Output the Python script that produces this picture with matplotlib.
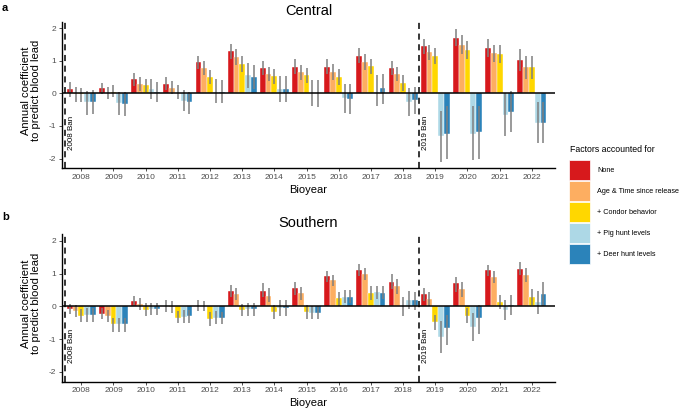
import matplotlib
matplotlib.use("Agg")
import matplotlib.pyplot as plt
from matplotlib.patches import Rectangle
import numpy as np

plt.rcParams['font.family'] = ['Liberation Sans', 'DejaVu Sans']

years = ['2008', '2009', '2010', '2011', '2012', '2013', '2014', '2015',
         '2016', '2017', '2018', '2019', '2020', '2021', '2022']
factors = ['None', 'Age & Time since release', '+ Condor behavior',
           '+ Pig hunt levels', '+ Deer hunt levels']
colors = ['#D7191C', '#FDAE61', '#FFD700', '#ADD8E6', '#2B83BA']

# Central region: estimate, lower, upper per factor
central_none = [0.12, 0.15, 0.43, 0.30, 0.95, 1.30, 0.78, 0.82, 0.80, 1.15, 0.78, 1.45, 1.70, 1.40, 1.02]
central_none_lo = [-0.10, -0.02, 0.22, 0.10, 0.75, 1.07, 0.55, 0.60, 0.58, 0.92, 0.55, 1.20, 1.45, 1.12, 0.68]
central_none_hi = [0.35, 0.33, 0.63, 0.50, 1.15, 1.52, 1.00, 1.05, 1.05, 1.38, 1.00, 1.68, 1.97, 1.68, 1.35]

central_age = [-0.02, 0.00, 0.30, 0.17, 0.77, 1.12, 0.60, 0.65, 0.67, 0.97, 0.60, 1.27, 1.48, 1.23, 0.80]
central_age_lo = [-0.25, -0.18, 0.08, -0.02, 0.55, 0.88, 0.38, 0.42, 0.42, 0.73, 0.37, 1.03, 1.20, 0.95, 0.45]
central_age_hi = [0.20, 0.20, 0.50, 0.37, 0.98, 1.35, 0.82, 0.88, 0.90, 1.20, 0.82, 1.50, 1.78, 1.50, 1.15]

central_condor = [-0.03, 0.05, 0.25, 0.02, 0.50, 0.90, 0.53, 0.55, 0.50, 0.83, 0.32, 1.15, 1.33, 1.20, 0.80]
central_condor_lo = [-0.25, -0.12, 0.05, -0.18, 0.28, 0.65, 0.30, 0.32, 0.27, 0.60, 0.08, 0.90, 1.05, 0.92, 0.45]
central_condor_hi = [0.18, 0.25, 0.45, 0.25, 0.72, 1.15, 0.75, 0.78, 0.75, 1.07, 0.55, 1.38, 1.60, 1.48, 1.15]

central_pig = [-0.27, -0.30, 0.12, -0.22, 0.05, 0.55, 0.12, 0.00, -0.15, 0.05, -0.27, -1.32, -1.25, -0.65, -0.90]
central_pig_lo = [-0.65, -0.65, -0.18, -0.55, -0.30, 0.15, -0.25, -0.40, -0.60, -0.38, -0.68, -2.10, -2.05, -1.30, -1.53]
central_pig_hi = [0.07, 0.05, 0.45, 0.10, 0.45, 0.92, 0.52, 0.42, 0.30, 0.55, 0.15, -0.55, -0.40, 0.00, -0.25]

central_deer = [-0.25, -0.32, 0.03, -0.28, 0.05, 0.50, 0.13, 0.00, -0.17, 0.15, -0.20, -1.25, -1.20, -0.57, -0.90]
central_deer_lo = [-0.62, -0.70, -0.28, -0.62, -0.30, 0.12, -0.25, -0.42, -0.62, -0.32, -0.62, -2.00, -2.00, -1.20, -1.52]
central_deer_hi = [0.10, 0.03, 0.35, 0.05, 0.42, 0.88, 0.52, 0.42, 0.30, 0.60, 0.20, -0.40, -0.40, 0.07, -0.27]

# Southern region
south_none = [-0.07, -0.22, 0.17, 0.00, 0.00, 0.48, 0.48, 0.55, 0.92, 1.12, 0.75, 0.37, 0.70, 1.10, 1.15]
south_none_lo = [-0.22, -0.38, 0.00, -0.18, -0.15, 0.30, 0.28, 0.35, 0.75, 0.93, 0.52, 0.17, 0.45, 0.92, 0.95]
south_none_hi = [0.08, -0.05, 0.32, 0.18, 0.18, 0.65, 0.70, 0.73, 1.08, 1.30, 0.98, 0.57, 0.90, 1.25, 1.35]

south_age = [-0.15, -0.30, 0.07, -0.03, 0.00, 0.38, 0.33, 0.40, 0.80, 1.00, 0.62, 0.22, 0.52, 0.90, 0.97]
south_age_lo = [-0.32, -0.48, -0.12, -0.20, -0.15, 0.18, 0.12, 0.20, 0.62, 0.80, 0.38, 0.00, 0.30, 0.70, 0.75]
south_age_hi = [0.05, -0.12, 0.25, 0.15, 0.15, 0.57, 0.55, 0.60, 0.95, 1.18, 0.85, 0.43, 0.73, 1.08, 1.18]

south_condor = [-0.30, -0.55, -0.10, -0.35, -0.40, -0.10, -0.18, -0.17, 0.25, 0.40, 0.00, -0.48, -0.28, 0.13, 0.28]
south_condor_lo = [-0.48, -0.77, -0.30, -0.52, -0.60, -0.30, -0.40, -0.38, 0.02, 0.18, -0.28, -0.72, -0.50, -0.08, 0.05]
south_condor_hi = [-0.08, -0.35, 0.10, -0.15, -0.18, 0.08, 0.05, 0.05, 0.45, 0.62, 0.28, -0.25, -0.05, 0.35, 0.53]

south_pig = [-0.27, -0.55, -0.07, -0.33, -0.37, -0.08, -0.05, -0.20, 0.30, 0.43, 0.20, -0.95, -0.63, -0.10, 0.12]
south_pig_lo = [-0.47, -0.77, -0.27, -0.50, -0.55, -0.28, -0.30, -0.40, 0.10, 0.22, -0.08, -1.42, -1.07, -0.43, -0.22]
south_pig_hi = [-0.05, -0.35, 0.10, -0.12, -0.15, 0.10, 0.18, 0.00, 0.50, 0.63, 0.48, -0.45, -0.20, 0.20, 0.48]

south_deer = [-0.27, -0.55, -0.07, -0.30, -0.37, -0.08, -0.05, -0.20, 0.30, 0.42, 0.18, -0.67, -0.37, 0.05, 0.38]
south_deer_lo = [-0.47, -0.77, -0.27, -0.50, -0.55, -0.28, -0.30, -0.40, 0.10, 0.22, -0.10, -1.18, -0.83, -0.27, 0.00]
south_deer_hi = [-0.05, -0.35, 0.10, -0.10, -0.17, 0.10, 0.18, 0.00, 0.50, 0.63, 0.45, -0.25, 0.05, 0.35, 0.75]

central = [(central_none, central_none_lo, central_none_hi),
           (central_age, central_age_lo, central_age_hi),
           (central_condor, central_condor_lo, central_condor_hi),
           (central_pig, central_pig_lo, central_pig_hi),
           (central_deer, central_deer_lo, central_deer_hi)]
south = [(south_none, south_none_lo, south_none_hi),
         (south_age, south_age_lo, south_age_hi),
         (south_condor, south_condor_lo, south_condor_hi),
         (south_pig, south_pig_lo, south_pig_hi),
         (south_deer, south_deer_lo, south_deer_hi)]

W, H = 682, 411
fig = plt.figure(figsize=(W / 100, H / 100), dpi=100)

def fx(px):
    return px / W

def fy(py):
    return 1 - py / H

tick_col = '#4D4D4D'
x = np.arange(len(years))
bw = 0.18

def draw_panel(ax, data, title):
    for i, (vals, lo, hi) in enumerate(data):
        pos = x - 0.36 + i * bw
        ax.bar(pos, vals, width=bw, color=colors[i], edgecolor='white',
               linewidth=0.3, zorder=2)
        ax.vlines(pos, lo, hi, color='#7F7F7F', linewidth=1.1, zorder=3)
    ax.axhline(0, color='black', linewidth=1.1, zorder=4)
    for xv in (-0.5, 10.5):
        ax.axvline(xv, color='black', linestyle=(0, (4, 3)), linewidth=1.1, zorder=4)
    ax.text(-0.5 + 0.1, -1.2, '2008 Ban', rotation=90, ha='left', va='center',
            fontsize=5.8, color='black')
    ax.text(10.5 + 0.1, -1.2, '2019 Ban', rotation=90, ha='left', va='center',
            fontsize=5.8, color='black')
    ax.set_xlim(-0.6, 14.72)
    ax.set_ylim(-2.3, 2.2)
    ax.set_xticks(x)
    ax.set_xticklabels(years)
    ax.set_yticks([-2, -1, 0, 1, 2])
    ax.set_yticklabels(['-2', '-1', '0', '1', '2'])
    ax.tick_params(axis='both', labelsize=6, colors='#333333', labelcolor=tick_col,
                   length=2.5, width=0.6, pad=1.5)
    for s in ('top', 'right'):
        ax.spines[s].set_visible(False)
    for s in ('left', 'bottom'):
        ax.spines[s].set_linewidth(1.0)
    ax.set_title(title, fontsize=10.5, pad=5)
    ax.set_xlabel('Bioyear', fontsize=8, labelpad=3)
    ax.set_ylabel('Annual coefficient\nto predict blood lead', fontsize=8,
                  linespacing=1.0)
    ax.yaxis.set_label_coords(-0.042, 0.53)

ax1 = fig.add_axes([fx(62), fy(168.3), fx(555 - 62), (168.3 - 21.7) / H])
ax2 = fig.add_axes([fx(62), fy(381.7), fx(555 - 62), (381.7 - 234.3) / H])
draw_panel(ax1, central, 'Central')
draw_panel(ax2, south, 'Southern')

fig.text(fx(2), fy(8), 'a', fontsize=8, fontweight='bold', ha='left', va='center')
fig.text(fx(2), fy(217), 'b', fontsize=8, fontweight='bold', ha='left', va='center')

# legend
fig.text(fx(570), fy(149), 'Factors accounted for', fontsize=6.3, ha='left', va='center')
box_tops = [160, 181, 202, 223, 244]
for i, lab in enumerate(factors):
    fig.patches.append(Rectangle((fx(569), fy(box_tops[i] + 20)), fx(21), 20 / H,
                                 transform=fig.transFigure, facecolor=colors[i],
                                 edgecolor='white', linewidth=0.5))
    fig.text(fx(597), fy(box_tops[i] + 10), lab, fontsize=5.2, ha='left', va='center')

fig.savefig('out.png', dpi=100)
